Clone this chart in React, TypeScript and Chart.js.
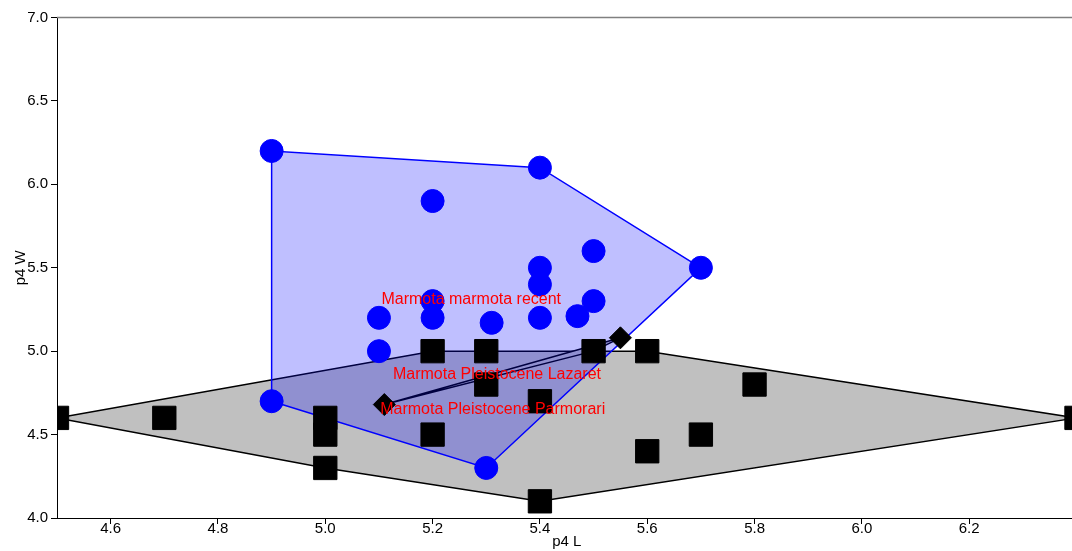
import React, { useEffect, useRef } from "react";
import { Chart, registerables } from "chart.js";
Chart.register(...registerables);

// Marmota marmota recent (blue circles)
const recentX = [4.9, 5.4, 5.2, 5.5, 5.4, 5.7, 5.4, 5.2, 5.5, 5.1, 5.2, 5.31, 5.4, 5.47, 5.1, 4.9, 5.3];
const recentY = [6.2, 6.1, 5.9, 5.6, 5.5, 5.5, 5.4, 5.3, 5.3, 5.2, 5.2, 5.17, 5.2, 5.21, 5.0, 4.7, 4.3];
// Marmota Pleistocene Parmorari (black squares)
const parmorariX = [4.5, 4.7, 5.0, 5.0, 5.0, 5.2, 5.2, 5.3, 5.3, 5.4, 5.4, 5.5, 5.6, 5.6, 5.7, 5.8, 6.4];
const parmorariY = [4.6, 4.6, 4.6, 4.5, 4.3, 5.0, 4.5, 5.0, 4.8, 4.7, 4.1, 5.0, 5.0, 4.4, 4.5, 4.8, 4.6];
// Marmota Pleistocene Lazaret (black diamonds)
const lazaretX = [5.11, 5.5, 5.55];
const lazaretY = [4.68, 5.0, 5.08];

// group labels
const labelText = ["Marmota marmota recent", "Marmota Pleistocene Lazaret", "Marmota Pleistocene Parmorari"];
const labelX = [5.272, 5.32, 5.312];
const labelY = [5.311, 4.862, 4.647];

// axes
const xTicks = [4.6, 4.8, 5.0, 5.2, 5.4, 5.6, 5.8, 6.0, 6.2];
const yTicks = [4.0, 4.5, 5.0, 5.5, 6.0, 6.5, 7.0];
const xMin = 4.5, xMax = 6.4, yMin = 4.0, yMax = 7.0;
const xTitle = "p4 L";
const yTitle = "p4 W";

type P = { x: number; y: number };
function toPoints(xs: number[], ys: number[]): P[] {
  return xs.map((x, i) => ({ x, y: ys[i] }));
}
function convexHull(xs: number[], ys: number[]): P[] {
  const pts = toPoints(xs, ys).sort((a, b) => a.x - b.x || a.y - b.y);
  const cross = (o: P, a: P, b: P) => (a.x - o.x) * (b.y - o.y) - (a.y - o.y) * (b.x - o.x);
  const lower: P[] = [];
  for (const p of pts) {
    while (lower.length >= 2 && cross(lower[lower.length - 2], lower[lower.length - 1], p) <= 0) lower.pop();
    lower.push(p);
  }
  const upper: P[] = [];
  for (const p of [...pts].reverse()) {
    while (upper.length >= 2 && cross(upper[upper.length - 2], upper[upper.length - 1], p) <= 0) upper.pop();
    upper.push(p);
  }
  lower.pop();
  upper.pop();
  const h = lower.concat(upper);
  h.push({ ...h[0] });
  return h;
}

const FONT = "'Liberation Sans', Arial, Helvetica, sans-serif";
const W = 1094;
const H = 551;

const overlayPlugin = {
  id: "overlay",
  beforeDatasetsDraw(chart: any) {
    const { ctx, chartArea } = chart;
    ctx.save();
    ctx.strokeStyle = "#808080";
    ctx.lineWidth = 1.5;
    ctx.beginPath();
    ctx.moveTo(chartArea.left, chartArea.top);
    ctx.lineTo(chartArea.right, chartArea.top);
    ctx.stroke();
    ctx.restore();
  },
  afterDatasetsDraw(chart: any) {
    const { ctx } = chart;
    const xs = chart.scales.x;
    const ys = chart.scales.y;
    ctx.save();
    ctx.fillStyle = "#FF0000";
    ctx.font = `16px ${FONT}`;
    ctx.textAlign = "center";
    ctx.textBaseline = "middle";
    labelText.forEach((t, i) => {
      ctx.fillText(t, xs.getPixelForValue(labelX[i]), ys.getPixelForValue(labelY[i]));
    });
    ctx.restore();
  },
};

export default function App() {
  const ref = useRef<HTMLCanvasElement | null>(null);
  useEffect(() => {
    if (!ref.current) return;
    const hullStyle = (color: string, fillColor: string, order: number, data: P[]) => ({
      data,
      showLine: true,
      fill: "shape",
      borderColor: color,
      backgroundColor: fillColor,
      borderWidth: 1.5,
      pointRadius: 0,
      pointHoverRadius: 0,
      tension: 0,
      order,
      clip: 0,
    });
    const chart = new Chart(ref.current, {
      type: "scatter",
      data: {
        datasets: [
          hullStyle("#000000", "#C0C0C0", 10, convexHull(parmorariX, parmorariY)),
          hullStyle("#000000", "#C0C0C0", 9, convexHull(lazaretX, lazaretY)),
          hullStyle("#0000FF", "rgba(0,0,255,0.25)", 8, convexHull(recentX, recentY)),
          {
            data: toPoints(lazaretX, lazaretY),
            pointStyle: "rectRot",
            pointRadius: 11,
            pointBackgroundColor: "#000",
            pointBorderColor: "#000",
            pointBorderWidth: 1,
            order: 7,
            clip: 0,
          },
          {
            data: toPoints(parmorariX, parmorariY),
            pointStyle: "rect",
            pointRadius: 16.5,
            pointBackgroundColor: "#000",
            pointBorderColor: "#000",
            pointBorderWidth: 1,
            order: 6,
            clip: 0,
          },
          {
            data: toPoints(recentX, recentY),
            pointStyle: "circle",
            pointRadius: 11.5,
            pointBackgroundColor: "#0000FF",
            pointBorderColor: "#0000FF",
            pointBorderWidth: 1,
            order: 5,
            clip: 0,
          },
        ] as any,
      },
      options: {
        responsive: true,
        maintainAspectRatio: false,
        animation: false,
        devicePixelRatio: 1,
        layout: { padding: { top: 17, right: 0, left: 0, bottom: 0 } },
        plugins: { legend: { display: false }, tooltip: { enabled: false } },
        events: [],
        scales: {
          x: {
            type: "linear",
            min: xMin,
            max: xMax,
            afterBuildTicks: (s: any) => {
              s.ticks = xTicks.map((v) => ({ value: v }));
            },
            afterFit: (s: any) => {
              s.height = 33;
              s.paddingLeft = 0;
              s.paddingRight = 0;
            },
            ticks: {
              autoSkip: false,
              maxRotation: 0,
              padding: -4,
              color: "#000",
              font: { family: FONT, size: 15 },
              callback: (v: any) => Number(v).toFixed(1),
            },
            grid: { display: true, drawOnChartArea: false, drawTicks: true, tickLength: 6, color: "#000", lineWidth: 1 },
            border: { display: true, color: "#000", width: 1 },
            title: { display: true, text: xTitle, color: "#000", font: { family: FONT, size: 15 }, padding: 0 },
          },
          y: {
            type: "linear",
            min: yMin,
            max: yMax,
            afterBuildTicks: (s: any) => {
              s.ticks = yTicks.map((v) => ({ value: v }));
            },
            afterFit: (s: any) => {
              s.width = 57;
              s.paddingTop = 0;
              s.paddingBottom = 0;
            },
            ticks: {
              autoSkip: false,
              padding: 3,
              color: "#000",
              font: { family: FONT, size: 15 },
              callback: (v: any) => Number(v).toFixed(1),
            },
            grid: { display: true, drawOnChartArea: false, drawTicks: true, tickLength: 6, color: "#000", lineWidth: 1 },
            border: { display: true, color: "#000", width: 1 },
            title: { display: true, text: yTitle, color: "#000", font: { family: FONT, size: 15 }, padding: { top: 12, bottom: 0 } },
          },
        },
      } as any,
      plugins: [overlayPlugin],
    });
    return () => chart.destroy();
  }, []);
  return (
    <div style={{ position: "fixed", left: 0, top: 0, width: W, height: H, background: "#fff" }}>
      <canvas ref={ref} />
    </div>
  );
}
